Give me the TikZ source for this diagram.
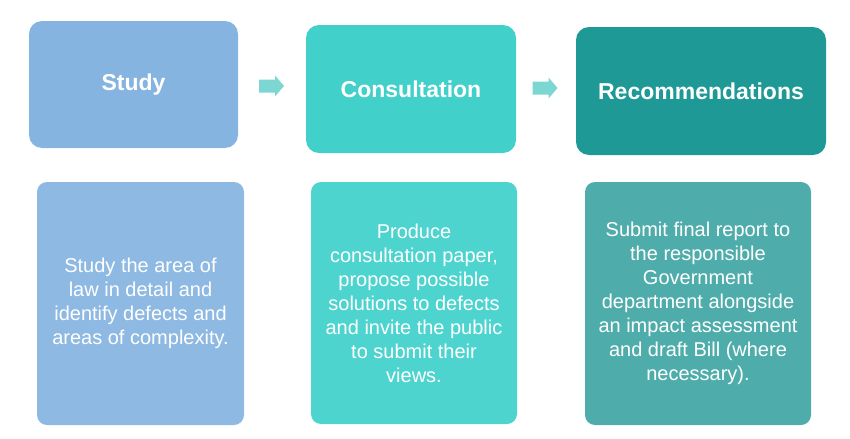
\documentclass[tikz,border=0pt]{standalone}
\usepackage{fontspec}
\setmainfont{Liberation Sans}
\usetikzlibrary{fadings}

\definecolor{studyTop}{RGB}{134,180,224}
\definecolor{studyLow}{RGB}{142,185,226}
\definecolor{consultTop}{RGB}{66,208,203}
\definecolor{consultLow}{RGB}{78,212,207}
\definecolor{recTop}{RGB}{30,153,149}
\definecolor{recLow}{RGB}{78,173,171}
\definecolor{arrowTeal}{RGB}{124,214,209}

\begin{document}
\begin{tikzpicture}[x=0.75pt,y=0.75pt,yscale=-1,xscale=1,
    titlebox/.style={rounded corners=9.75pt, inner sep=0pt, text=white, align=center,
        font=\fontsize{17.25}{20}\selectfont\bfseries},
    textbox/.style={rounded corners=7.5pt, inner sep=0pt, text=white, align=center,
        font=\fontsize{15}{18}\selectfont},
    blockarrow/.style={fill=arrowTeal, draw=none},
    glowstrip/.style={fill=white, fill opacity=0.45, path fading=north, rounded corners=7.5pt}]
        \useasboundingbox (0,0) rectangle (850,439);

        % Title Node
        \draw (133.5,84.5) node [titlebox, fill=studyTop, minimum width=156.75pt, minimum height=95.25pt] (study) {Study};
        % Title Node
        \draw (411,89) node [titlebox, fill=consultTop, minimum width=157.5pt, minimum height=96pt] (consult) {Consultation};
        % Title Node
        \draw (701,91) node [titlebox, fill=recTop, minimum width=187.5pt, minimum height=96pt] (recommend) {Recommendations};

        % Text Node
        \draw (140.5,303.5) node [textbox, fill=studyLow, minimum width=155.25pt, minimum height=182.25pt] (studyText) {Study the area of\\law in detail and\\identify defects and\\areas of complexity.};
        % Text Node
        \draw (414,303) node [textbox, fill=consultLow, minimum width=154.5pt, minimum height=181.5pt] (consultText) {Produce\\consultation paper,\\propose possible\\solutions to defects\\and invite the public\\to submit their\\views.};
        % Text Node
        \draw (698,303.5) node [textbox, fill=recLow, minimum width=169.5pt, minimum height=182.25pt] (recommendText) {Submit final report to\\the responsible\\Government\\department alongside\\an impact assessment\\and draft Bill (where\\necessary).};

        % light strip at the foot of the text boxes
        \foreach \b in {studyText,consultText,recommendText}
            \fill [glowstrip] ([yshift=18pt]\b.south west) rectangle (\b.south east);

        % Block Arrows
        \coordinate (arrowA) at (272,86);
        \coordinate (arrowB) at (545.5,88);
        \foreach \a in {arrowA,arrowB}
            \fill [blockarrow, shift={(\a)}] (-13,-6.5) -- (3,-6.5) -- (3,-10.5) -- (12,0) -- (3,10.5) -- (3,6.5) -- (-13,6.5) -- cycle ;
    \end{tikzpicture}
\end{document}
